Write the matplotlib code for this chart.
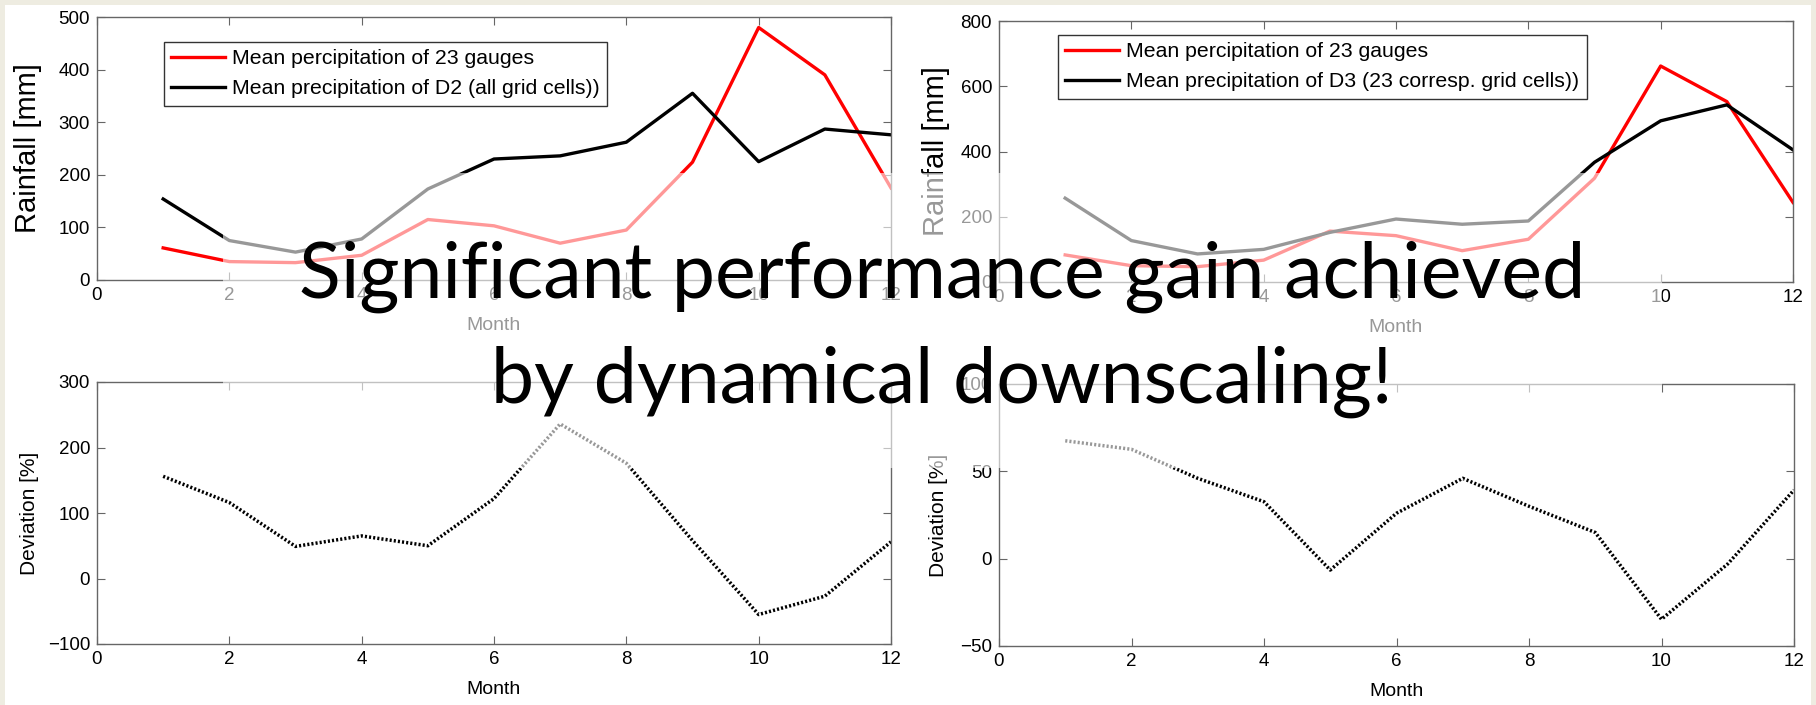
import matplotlib.pyplot as plt
from matplotlib.patches import Rectangle

# monthly values
months = list(range(1, 13))
gauges_d2 = [61, 35, 33, 47, 115, 103, 70, 95, 224, 480, 390, 175]
d2_all = [154, 75, 53, 78, 173, 230, 236, 262, 355, 225, 287, 276]
gauges_d3 = [83, 50, 47, 67, 156, 142, 96, 131, 318, 662, 553, 244]
d3_corr = [257, 127, 86, 100, 152, 193, 177, 187, 367, 494, 543, 405]
dev_d2 = [156, 116, 49, 65, 50, 122, 236, 176, 58, -55, -27, 56]
dev_d3 = [67.5, 62.6, 46, 32.6, -6.5, 26, 46, 30, 15, -34.7, -3, 39.3]

W, H = 1816, 705
plt.rcParams['font.family'] = ['Liberation Sans', 'DejaVu Sans']

fig = plt.figure(figsize=(W / 100, H / 100), dpi=100, facecolor='#EEECE1')
fig.add_artist(Rectangle((5 / W, 0), (1811 - 5) / W, 700 / H, transform=fig.transFigure,
                         facecolor='white', edgecolor='none', zorder=-1))


def box(left, top, right, bottom):
    return [left / W, 1 - bottom / H, (right - left) / W, (bottom - top) / H]


def style(ax, ylim, yticks, ylabel, ylab_x, ylab_size):
    ax.set_xlim(0, 12)
    ax.set_ylim(*ylim)
    ax.set_xticks(range(0, 13, 2))
    ax.set_yticks(yticks)
    ax.tick_params(direction='in', top=True, right=True, length=5.5, width=0.8,
                   color='#666666', labelsize=13.5, labelcolor='black', pad=5)
    for s in ax.spines.values():
        s.set_color('#666666')
        s.set_linewidth(1.0)
    ax.set_xlabel('Month', fontsize=14)
    ax.xaxis.set_label_coords(0.5, -0.141)
    ax.set_ylabel(ylabel, fontsize=ylab_size)
    ax.yaxis.set_label_coords(ylab_x, 0.5)


leg_kw = dict(loc='upper left', fontsize=15.3, frameon=True, fancybox=False, framealpha=1,
              edgecolor='#333333', borderpad=0.35, labelspacing=0.5, handlelength=2.5,
              handletextpad=0.35, borderaxespad=0, bbox_transform=fig.transFigure)

# top left: D2
ax1 = fig.add_axes(box(97, 17, 891, 280))
ax1.plot(months, gauges_d2, color='red', lw=2.4, label='Mean percipitation of 23 gauges')
ax1.plot(months, d2_all, color='black', lw=2.4, label='Mean precipitation of D2 (all grid cells))')
style(ax1, (0, 500), range(0, 501, 100), 'Rainfall [mm]', -0.069, 21)
leg = ax1.legend(bbox_to_anchor=(164 / W, 1 - 42 / H), **leg_kw)
leg.get_frame().set_linewidth(1.0)

# top right: D3
ax2 = fig.add_axes(box(999, 21, 1793, 282))
ax2.plot(months, gauges_d3, color='red', lw=2.4, label='Mean percipitation of 23 gauges')
ax2.plot(months, d3_corr, color='black', lw=2.4, label='Mean precipitation of D3 (23 corresp. grid cells))')
style(ax2, (0, 800), range(0, 801, 200), 'Rainfall [mm]', -0.062, 21)
leg = ax2.legend(bbox_to_anchor=(1058 / W, 1 - 35 / H), **leg_kw)
leg.get_frame().set_linewidth(1.0)

# bottom left: deviation D2
ax3 = fig.add_axes(box(97, 382, 891, 644))
ax3.plot(months, dev_d2, color='black', lw=2.5, linestyle=(0, (0.6, 0.6)))
style(ax3, (-100, 300), range(-100, 301, 100), 'Deviation [%]', -0.073, 15)

# bottom right: deviation D3
ax4 = fig.add_axes(box(999, 384, 1794, 646))
ax4.plot(months, dev_d3, color='black', lw=2.5, linestyle=(0, (0.6, 0.6)))
style(ax4, (-50, 100), range(-50, 101, 50), 'Deviation [%]', -0.064, 15)

# semi transparent box behind the slide text
fig.add_artist(Rectangle((223 / W, 1 - 468 / H), (1662 - 223) / W, (468 - 173) / H,
                         transform=fig.transFigure, facecolor='white', alpha=0.6,
                         edgecolor='none', zorder=5))
fig.text(942 / W, 1 - 298 / H, 'Significant performance gain achieved', ha='center',
         va='baseline', fontsize=55.5, family=['Lato', 'DejaVu Sans'], zorder=6)
fig.text(942 / W, 1 - 403 / H, 'by dynamical downscaling!', ha='center',
         va='baseline', fontsize=55.5, family=['Lato', 'DejaVu Sans'], zorder=6)

fig.savefig('out.png', dpi=100, facecolor=fig.get_facecolor())
